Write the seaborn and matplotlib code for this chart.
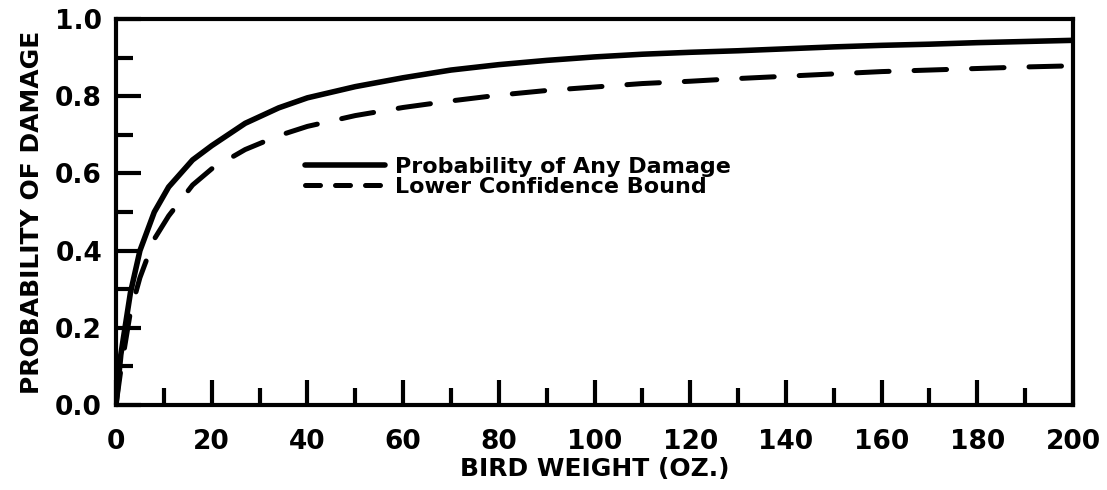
import numpy as np
import pandas as pd
import matplotlib
matplotlib.use("Agg")
import matplotlib.pyplot as plt
import seaborn as sns

# values
weight = [0, 1, 3, 5, 8, 11, 16, 20, 27, 34, 40, 50, 60, 70, 80, 90, 100,
          110, 120, 130, 140, 150, 160, 170, 180, 190, 200]
prob_any = [0.0, 0.13, 0.29, 0.40, 0.50, 0.565, 0.635, 0.672, 0.73, 0.77, 0.796,
            0.825, 0.848, 0.868, 0.882, 0.893, 0.902, 0.909, 0.914, 0.918, 0.923,
            0.928, 0.932, 0.935, 0.939, 0.942, 0.945]
lower_bound = [0.0, 0.09, 0.24, 0.33, 0.43, 0.49, 0.57, 0.612, 0.662, 0.698, 0.722,
               0.75, 0.771, 0.788, 0.803, 0.815, 0.824, 0.833, 0.839, 0.846, 0.852,
               0.858, 0.864, 0.868, 0.872, 0.876, 0.879]

df = pd.DataFrame({"weight": weight, "any": prob_any, "lcb": lower_bound})

sns.set_style("ticks")
plt.rcParams['font.family'] = ['DejaVu Sans']
plt.rcParams['font.weight'] = 'bold'
plt.rcParams['text.color'] = 'black'
plt.rcParams['axes.labelcolor'] = 'black'

fig = plt.figure(figsize=(11.07, 4.9), dpi=100)
ax = fig.add_axes([0.1048, 0.1735, 0.8645, 0.7875])

sns.lineplot(data=df, x="weight", y="any", ax=ax, color="black", lw=4,
             label="Probability of Any Damage")
sns.lineplot(data=df, x="weight", y="lcb", ax=ax, color="black", lw=3.6,
             label="Lower Confidence Bound")
ax.lines[1].set_dashes((6.5, 5))
for ln in ax.lines:
    ln.set_solid_capstyle("round")
    ln.set_dash_capstyle("round")

ax.set_xlim(0, 200)
ax.set_ylim(0, 1.0)
ax.set_xticks(np.arange(0, 201, 20))
ax.set_xticks(np.arange(10, 200, 20), minor=True)
ax.set_yticks(np.arange(0, 1.01, 0.2))
ax.set_yticks(np.arange(0.1, 1.0, 0.2), minor=True)
ax.set_yticklabels(["0.0", "0.2", "0.4", "0.6", "0.8", "1.0"])

for s in ax.spines.values():
    s.set_linewidth(3)
    s.set_color("black")

ax.tick_params(axis="both", which="major", direction="in", length=18, width=3,
               labelsize=19, colors="black")
ax.tick_params(axis="both", which="minor", direction="in", length=12, width=3,
               colors="black")
ax.tick_params(axis="x", which="both", pad=17)
ax.tick_params(axis="y", which="both", pad=10)
ax.tick_params(top=False, right=False, which="both")

ax.set_xlabel("BIRD WEIGHT (OZ.)", fontsize=18, fontweight="bold", labelpad=2)
ax.set_ylabel("PROBABILITY OF DAMAGE", fontsize=18, fontweight="bold", labelpad=8)

leg = ax.legend(loc="upper left", bbox_to_anchor=(0.1975, 0.643), frameon=False,
                handlelength=3.6, labelspacing=0.0, handletextpad=0.45,
                borderpad=0, borderaxespad=0,
                prop={"size": 16, "weight": "bold"})
leg.get_lines()[1].set_dashes((3, 3))

fig.savefig("out.png", dpi=100)
